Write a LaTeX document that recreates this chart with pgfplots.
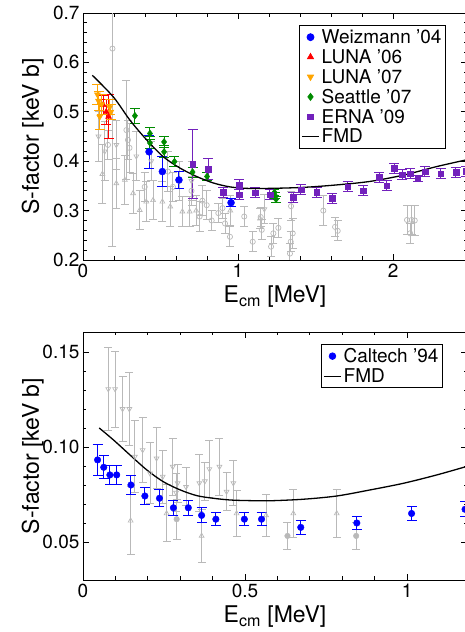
\documentclass[border=0pt]{standalone}
\usepackage{fontspec}
\setmainfont{TeX Gyre Heros}
\usepackage{pgfplots}
\pgfplotsset{compat=1.18}

\definecolor{cblue}{RGB}{0,0,255}
\definecolor{cred}{RGB}{255,0,0}
\definecolor{corange}{RGB}{255,165,0}
\definecolor{cgreen}{RGB}{0,139,0}
\definecolor{cpurple}{RGB}{114,33,188}
\definecolor{cgray}{RGB}{185,185,185}

\pgfplotsset{
  panel/.style={
    scale only axis, width=384pt, anchor=south west,
    axis line style={line width=0.9pt},
    major tick length=6pt, minor tick length=3.5pt,
    every tick/.style={black, line width=0.8pt},
    /pgf/number format/assume math mode=true,
    tick label style={font=\fontsize{19}{19}\selectfont},
    every axis y label/.style={at={(axis description cs:-0.131,0.5)}, rotate=90, anchor=center,
      font=\fontsize{23}{23}\selectfont},
    every axis x label/.style={at={(axis description cs:0.5,-0.09)}, anchor=north,
      font=\fontsize{23}{23}\selectfont},
    legend style={draw=black, line width=0.8pt, font=\fontsize{19}{19}\selectfont,
      cells={anchor=west}, row sep=0.5pt, inner sep=2pt},
    clip=true,
  },
  ebar/.style={error bars/.cd, y dir=both, y explicit,
    error bar style={line width=1pt},
    error mark options={rotate=90, mark size=#1, line width=1pt}},
}

\begin{document}
\begin{tikzpicture}
% ---------------- upper panel ----------------
\begin{axis}[panel, at={(83pt,372pt)}, height=247pt,
  xmin=0, xmax=2.477, ymin=0.2, ymax=0.7,
  xtick={0,1,2}, ytick={0.2,0.3,0.4,0.5,0.6,0.7},
  minor x tick num=4, minor y tick num=4,
  yticklabel style={/pgf/number format/.cd, fixed, fixed zerofill, precision=1},
  xlabel={E\textsubscript{cm} [MeV]}, ylabel={S-factor [keV b]},
  legend style={at={(0.945,0.951)}, anchor=north east}]

% older data (grey)
\addplot[forget plot, only marks, cgray, mark=o, mark size=2.6pt, mark options={line width=0.7pt}, ebar=4pt]
table[x=x, y=y, y error=e] {
x y e
0.19 0.628 0.40
0.161 0.433 0.03
0.28 0.463 0.10
0.29 0.443 0.04
0.30 0.427 0.05
0.398 0.348 0.03
0.548 0.379 0.04
0.58 0.348 0.03
0.62 0.36 0.04
0.70 0.34 0.03
0.752 0.288 0.03
0.77 0.32 0.03
0.798 0.311 0.03
0.83 0.28 0.02
0.873 0.295 0.02
0.90 0.305 0.02
0.916 0.274 0.02
0.948 0.247 0.02
1.04 0.288 0.02
1.095 0.237 0.02
1.146 0.287 0.02
1.153 0.261 0.02
1.228 0.254 0.02
1.26 0.265 0.02
1.213 0.227 0.02
1.335 0.213 0.02
1.34 0.237 0.02
1.353 0.254 0.03
1.342 0.309 0.03
1.55 0.30 0.03
1.626 0.267 0.02
1.643 0.259 0.02
2.09 0.281 0.03
2.12 0.281 0.03
2.14 0.28 0.03
2.11 0.254 0.02
};
\addplot[forget plot, only marks, cgray, mark=triangle, mark size=2.8pt, mark options={line width=0.7pt}, ebar=4pt]
table[x=x, y=y, y error=e] {
x y e
0.125 0.374 0.06
0.215 0.355 0.05
0.27 0.362 0.05
0.323 0.335 0.04
0.366 0.301 0.04
0.408 0.318 0.04
0.452 0.321 0.04
0.512 0.318 0.04
0.563 0.308 0.04
0.641 0.298 0.03
0.688 0.298 0.03
0.73 0.30 0.03
0.95 0.30 0.03
1.142 0.284 0.02
};
\addplot[forget plot, only marks, cgray, mark=triangle, mark size=2.8pt, mark options={rotate=180, line width=0.7pt}, ebar=4pt]
table[x=x, y=y, y error=e] {
x y e
0.10 0.45 0.05
0.14 0.42 0.06
0.215 0.433 0.05
0.344 0.41 0.05
0.44 0.40 0.04
0.70 0.36 0.04
1.17 0.303 0.03
};

% Weizmann '04
\addplot[only marks, cblue, mark=*, mark size=3.5pt, ebar=5pt]
table[x=x, y=y, y error=e] {
x y e
0.426 0.419 0.034
0.512 0.379 0.031
0.619 0.362 0.018
0.955 0.316 0.008
};
\addlegendentry{Weizmann '04}
% LUNA '06
\addplot[only marks, cred, mark=triangle*, mark size=3.5pt, ebar=5pt]
table[x=x, y=y, y error=e] {
x y e
0.130 0.514 0.020
0.150 0.500 0.025
0.165 0.490 0.045
};
\addlegendentry{LUNA '06}
% LUNA '07
\addplot[only marks, corange, mark=triangle*, mark size=3.5pt, mark options={rotate=180}, ebar=5pt]
table[x=x, y=y, y error=e] {
x y e
0.093 0.535 0.020
0.100 0.522 0.020
0.108 0.490 0.025
0.120 0.515 0.020
0.172 0.509 0.015
0.180 0.500 0.015
};
\addlegendentry{LUNA '07}
% Seattle '07
\addplot[only marks, cgreen, mark=diamond*, mark size=3.5pt, ebar=5pt]
table[x=x, y=y, y error=e] {
x y e
0.335 0.492 0.015
0.432 0.456 0.012
0.432 0.437 0.012
0.523 0.439 0.012
0.523 0.419 0.012
0.590 0.399 0.010
0.707 0.378 0.010
0.800 0.369 0.008
1.235 0.337 0.006
1.240 0.330 0.006
1.245 0.323 0.006
};
\addlegendentry{Seattle '07}
% ERNA '09
\addplot[only marks, cpurple, mark=square*, mark size=2.8pt, ebar=5pt]
table[x=x, y=y, y error=e] {
x y e
0.707 0.394 0.070
0.809 0.384 0.021
0.905 0.337 0.010
1.009 0.352 0.010
1.009 0.332 0.010
1.110 0.336 0.010
1.206 0.332 0.010
1.357 0.327 0.010
1.406 0.342 0.010
1.507 0.337 0.010
1.608 0.325 0.010
1.707 0.348 0.010
1.809 0.340 0.010
1.910 0.367 0.010
1.959 0.350 0.010
2.009 0.386 0.010
2.060 0.373 0.010
2.110 0.375 0.010
2.159 0.365 0.006
2.206 0.379 0.010
2.307 0.375 0.010
2.406 0.378 0.010
2.470 0.380 0.010
};
\addlegendentry{ERNA '09}
% FMD
\addplot[black, line width=1.3pt, smooth, no marks] coordinates {
(0.06,0.574) (0.196,0.530) (0.303,0.483) (0.411,0.443) (0.518,0.409)
(0.626,0.386) (0.733,0.369) (0.840,0.356) (0.948,0.348) (1.056,0.345)
(1.206,0.345) (1.42,0.347) (1.637,0.352) (1.85,0.359) (2.07,0.372)
(2.28,0.389) (2.477,0.403)};
\addlegendentry{FMD}
\end{axis}

% ---------------- lower panel ----------------
\begin{axis}[panel, at={(83pt,52pt)}, height=248pt,
  xmin=0, xmax=1.185, ymin=0.03, ymax=0.1605,
  xtick={0,0.5,1}, ytick={0.05,0.10,0.15},
  minor x tick num=4, minor y tick num=4,
  yticklabel style={/pgf/number format/.cd, fixed, fixed zerofill, precision=2},
  xlabel={E\textsubscript{cm} [MeV]}, ylabel={S-factor [keV b]},
  legend style={at={(0.937,0.952)}, anchor=north east}]

\addplot[forget plot, only marks, cgray, mark=triangle, mark size=2.8pt, mark options={rotate=180, line width=0.7pt}, ebar=4pt]
table[x=x, y=y, y error=e] {
x y e
0.078 0.1305 0.022
0.099 0.1305 0.020
0.122 0.120 0.017
0.143 0.120 0.019
0.160 0.0949 0.019
0.184 0.0984 0.017
0.207 0.0861 0.016
0.227 0.0940 0.016
0.246 0.0844 0.014
0.277 0.0896 0.015
0.287 0.0760 0.010
0.292 0.0810 0.010
0.318 0.0790 0.010
0.359 0.0810 0.015
0.376 0.0820 0.010
0.390 0.0884 0.015
0.421 0.0896 0.015
0.443 0.0765 0.010
0.464 0.0810 0.012
};
\addplot[forget plot, only marks, cgray, mark=triangle, mark size=2.8pt, mark options={line width=0.7pt}, ebar=4pt]
table[x=x, y=y, y error=e] {
x y e
0.147 0.0612 0.018
0.258 0.0650 0.015
0.366 0.0532 0.014
0.474 0.0650 0.012
0.565 0.0640 0.011
0.649 0.0650 0.0125
0.783 0.0650 0.0125
};
\addplot[forget plot, only marks, cgray, mark=*, mark size=2.8pt, ebar=4pt]
table[x=x, y=y, y error=e] {
x y e
0.289 0.0620 0.0105
0.631 0.0532 0.007
0.843 0.0532 0.007
};

% Caltech '94
\addplot[only marks, cblue, mark=*, mark size=3.3pt, ebar=5pt]
table[x=x, y=y, y error=e] {
x y e
0.045 0.0932 0.0080
0.064 0.0893 0.0060
0.083 0.0853 0.0050
0.104 0.0853 0.0050
0.148 0.0800 0.0050
0.191 0.0742 0.0045
0.236 0.0730 0.0045
0.279 0.0680 0.0040
0.325 0.0680 0.0040
0.366 0.0640 0.0040
0.410 0.0620 0.0035
0.498 0.0620 0.0035
0.551 0.0620 0.0035
0.672 0.0577 0.0035
0.845 0.0600 0.0035
1.014 0.0650 0.0035
1.179 0.0672 0.0040
};
\addlegendentry{Caltech '94}
\addplot[black, line width=1.3pt, smooth, no marks] coordinates {
(0.05,0.110) (0.094,0.1037) (0.145,0.0958) (0.197,0.0879) (0.248,0.0817)
(0.300,0.0774) (0.351,0.0744) (0.402,0.0730) (0.454,0.0721) (0.505,0.0718)
(0.577,0.0717) (0.680,0.0725) (0.783,0.0742) (0.886,0.0774) (0.989,0.0809)
(1.092,0.0853) (1.185,0.0898)};
\addlegendentry{FMD}
\end{axis}

\pgfresetboundingbox
\path[use as bounding box] (0pt,0pt) rectangle (465pt,632pt);
\end{tikzpicture}
\end{document}
